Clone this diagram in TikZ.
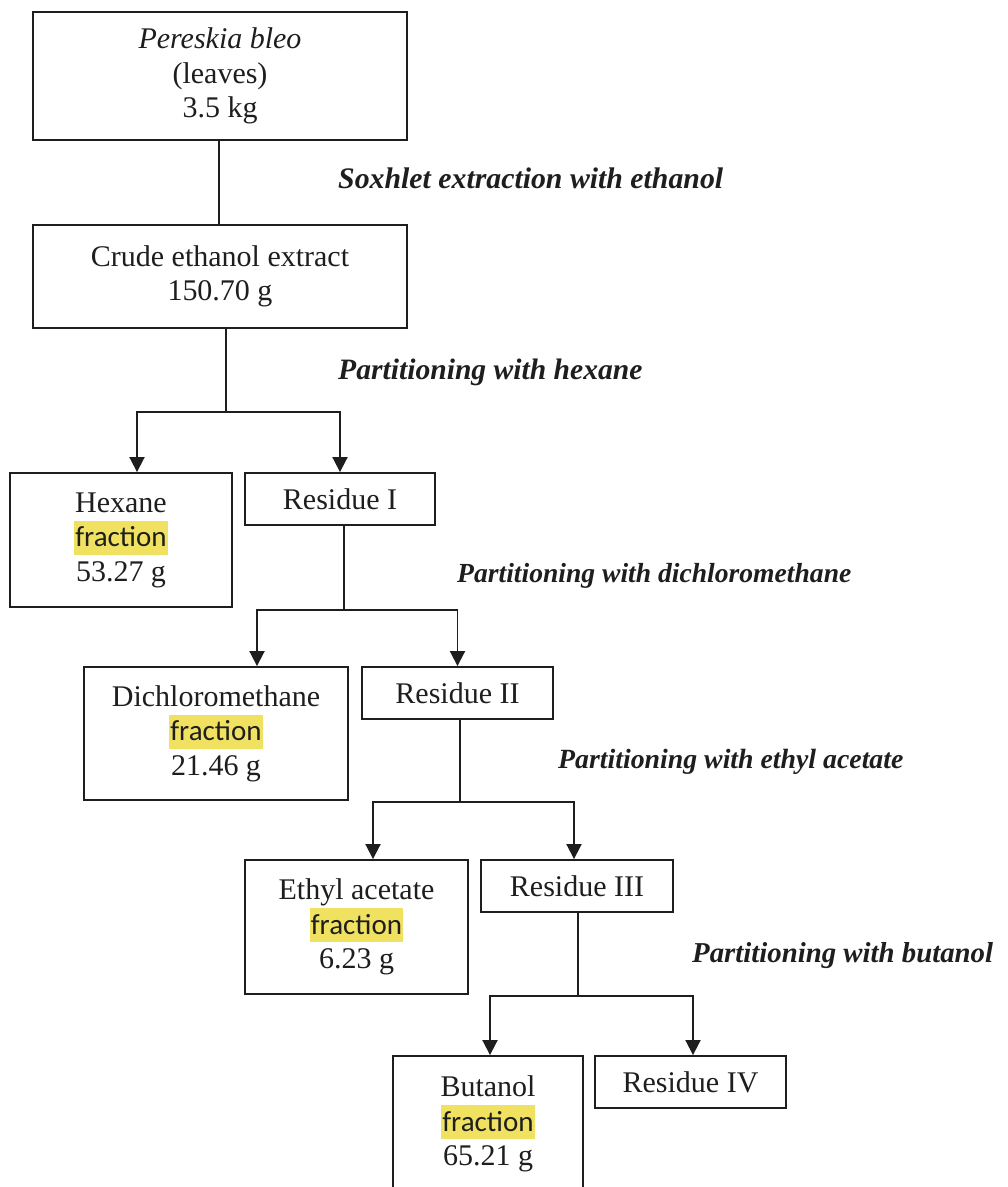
\documentclass[tikz,border=0pt]{standalone}
\usepackage{fontspec}
\setmainfont{Liberation Serif}
\newfontfamily\hlfont{Carlito}
\usetikzlibrary{arrows.meta}
\definecolor{hlyellow}{RGB}{240,226,96}
\definecolor{ink}{RGB}{30,30,30}
% highlighted word set in a sans face
\newcommand\hlword[1]{{\setlength\fboxsep{0pt}\colorbox{hlyellow}{\rule[-8pt]{0pt}{34pt}\hlfont\fontsize{29}{34.5}\selectfont\kern1pt#1\kern1pt}}}
\tikzset{
  box/.style={draw=ink, line width=1.9pt, inner sep=0pt, align=center,
    text=ink, font=\fontsize{30}{34.5}\selectfont},
  flow/.style={draw=ink, line width=1.9pt},
  arrow/.style={flow, -{Triangle[length=15pt,width=15pt]}},
  lab/.style={inner sep=0pt, anchor=base west, text=ink,
    font=\bfseries\itshape\fontsize{#1}{34}\selectfont}
}
\begin{document}
\begin{tikzpicture}[x=1pt,y=-1pt]
\useasboundingbox[fill=white] (0,0) rectangle (1008,1187);

% boxes
\node[box, minimum width=374pt, minimum height=128pt] (src) at (220,76)
  {\textit{Pereskia bleo}\\(leaves)\\3.5 kg};
\node[box, minimum width=374pt, minimum height=103pt] (crude) at (220,276.5)
  {Crude ethanol extract\\150.70 g};
\node[box, minimum width=222pt, minimum height=134pt] (hex) at (121,540)
  {Hexane\\\hlword{fraction}\\53.27 g};
\node[box, minimum width=190pt, minimum height=52pt] (r1) at (340,499) {Residue I};
\node[box, minimum width=264pt, minimum height=133pt] (dcm) at (216,733.5)
  {Dichloromethane\\\hlword{fraction}\\21.46 g};
\node[box, minimum width=191pt, minimum height=52pt] (r2) at (457.5,693) {Residue II};
\node[box, minimum width=223pt, minimum height=134pt] (ea) at (356.5,927)
  {Ethyl acetate\\\hlword{fraction}\\6.23 g};
\node[box, minimum width=192pt, minimum height=52pt] (r3) at (577,886) {Residue III};
\node[box, minimum width=190pt, minimum height=136pt] (bu) at (488,1124)
  {Butanol\\\hlword{fraction}\\65.21 g};
\node[box, minimum width=191pt, minimum height=52pt] (r4) at (690.5,1082) {Residue IV};

% step labels
\node[lab=29.8] (l0) at (338,188) {Soxhlet extraction with ethanol};
\node[lab=29.6] (l1) at (338,379) {Partitioning with hexane};
\node[lab=27.6] (l2) at (457,582) {Partitioning with dichloromethane};
\node[lab=27.8] (l3) at (558,768) {Partitioning with ethyl acetate};
\node[lab=28.8] (l4) at (692,962) {Partitioning with butanol};

% split points
\coordinate (s1) at (226,412);
\coordinate (s2) at (344,610);
\coordinate (s3) at (460,802);
\coordinate (s4) at (578,996);

% connectors
\draw[flow] ([xshift=-1pt]src.south) -- ([xshift=-1pt]crude.north);

\draw[flow] (crude.south -| s1) -- (s1);
\draw[arrow] (s1) -| ([xshift=16pt]hex.north);
\draw[arrow] (s1) -| (r1.north);

\draw[flow] (r1.south -| s2) -- (s2);
\draw[arrow] (s2) -| ([xshift=41pt]dcm.north);
\draw[arrow] (s2) -| (r2.north);

\draw[flow] (r2.south -| s3) -- (s3);
\draw[arrow] (s3) -| ([xshift=16.5pt]ea.north);
\draw[arrow] (s3) -| ([xshift=-3pt]r3.north);

\draw[flow] (r3.south -| s4) -- (s4);
\draw[arrow] (s4) -| ([xshift=2pt]bu.north);
\draw[arrow] (s4) -| ([xshift=2.5pt]r4.north);
\end{tikzpicture}
\end{document}
